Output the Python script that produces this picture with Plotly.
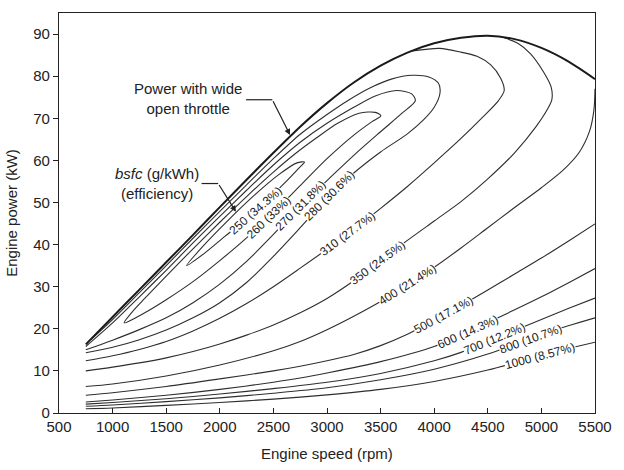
import numpy as np
import plotly.graph_objects as go

# ---------------- data ----------------
speed_ticks = [500, 1000, 1500, 2000, 2500, 3000, 3500, 4000, 4500, 5000, 5500]
power_ticks = [0, 10, 20, 30, 40, 50, 60, 70, 80, 90]

# wide-open-throttle power curve
wot_rpm = [750, 1000, 1250, 1500, 1750, 2000, 2250, 2500, 2750, 3000, 3250, 3500,
           3750, 4000, 4250, 4500, 4750, 5000, 5250, 5500]
wot_kw = [16.3, 22.8, 29.3, 35.8, 42.3, 48.9, 55.4, 61.8, 68.0, 73.6, 78.5, 82.5,
          85.6, 87.8, 89.1, 89.6, 88.8, 86.7, 83.5, 79.3]

# bsfc iso-lines (lower branch left->right, then upper branch back)
c250_rpm = [1690, 1850, 2050, 2250, 2450, 2620, 2740, 2790, 2720, 2550, 2300, 2075, 1850, 1690]
c250_kw = [35.0, 37.8, 42.0, 46.2, 50.8, 55.0, 58.2, 59.6, 59.4, 56.6, 51.2, 45.7, 39.8, 35.0]

c260_rpm = [1108, 1300, 1500, 1750, 2000, 2250, 2500, 2750, 3000, 3250, 3420, 3502,
            3450, 3300, 3100, 2900, 2700, 2500, 2250, 2000, 1750, 1500, 1300, 1180, 1108]
c260_kw = [21.4, 23.8, 26.9, 31.2, 36.2, 41.6, 47.6, 54.0, 60.4, 66.0, 69.2, 70.6,
           71.4, 71.2, 68.8, 65.3, 61.5, 57.2, 51.4, 45.3, 39.0, 32.5, 27.2, 23.9, 21.4]

c270_rpm = [750, 1000, 1250, 1500, 1750, 2000, 2250, 2500, 2750, 3000, 3250, 3500, 3700, 3824,
            3790, 3650, 3450, 3250, 3000, 2750, 2500, 2250, 2000, 1750, 1500, 1250, 1000, 750]
c270_kw = [15.0, 17.3, 19.8, 22.6, 26.2, 30.6, 36.0, 42.4, 49.2, 55.2, 61.2, 66.8, 71.2, 74.2,
           75.8, 76.6, 75.3, 72.6, 68.8, 64.3, 58.9, 52.9, 46.7, 40.4, 33.9, 27.6, 21.4, 15.8]

c280_rpm = [750, 1000, 1250, 1500, 1750, 2000, 2250, 2500, 2750, 3000, 3250, 3500, 3750, 3900, 4000, 4054,
            4040, 3950, 3800, 3600, 3400, 3200, 3000, 2750, 2500, 2250, 2000, 1750, 1500, 1250, 1000, 800]
c280_kw = [14.3, 15.6, 17.4, 19.7, 22.6, 26.2, 31.0, 37.2, 44.0, 51.0, 57.0, 62.0, 66.3, 69.6, 72.6, 76.0,
           78.3, 79.8, 80.2, 79.3, 77.2, 74.3, 70.9, 66.2, 60.4, 54.2, 47.9, 41.5, 35.0, 28.6, 22.2, 17.5]

c310_rpm = [750, 1000, 1250, 1500, 1750, 2000, 2250, 2500, 2750, 3000, 3250, 3500, 3750, 4000,
            4250, 4450, 4600, 4653, 4620, 4530, 4400, 4250, 4050, 3800]
c310_kw = [12.4, 13.6, 15.1, 17.0, 19.5, 22.5, 26.0, 30.0, 34.4, 38.9, 43.6, 48.6, 53.8, 59.4,
           65.2, 70.2, 74.2, 76.6, 79.5, 82.6, 84.7, 85.7, 86.6, 86.0]

c350_rpm = [750, 1000, 1250, 1500, 1750, 2000, 2250, 2500, 2750, 3000, 3250, 3500, 3750, 4000,
            4250, 4500, 4750, 4950, 5060, 5098, 5090, 5020, 4899, 4780, 4653]
c350_kw = [10.0, 10.9, 11.9, 13.1, 14.6, 16.4, 18.5, 20.9, 23.8, 27.2, 31.4, 36.2, 41.0, 45.6,
           50.2, 55.6, 61.8, 68.0, 72.3, 74.5, 77.5, 81.0, 85.3, 87.8, 89.1]

c400_rpm = [750, 1000, 1500, 2000, 2500, 2750, 3000, 3250, 3500, 3750, 4000, 4250, 4500,
            4750, 5000, 5200, 5350, 5450, 5490, 5500]
c400_kw = [6.3, 6.9, 8.8, 11.4, 14.8, 17.0, 19.8, 23.0, 26.5, 30.4, 34.6, 39.2, 44.0,
           48.8, 53.5, 57.6, 61.8, 67.0, 72.0, 77.0]

c500_rpm = [750, 1000, 1500, 2000, 2500, 2750, 3000, 3250, 3500, 3750, 4000, 4250, 4500, 4750, 5000, 5250, 5500]
c500_kw = [4.2, 4.8, 6.3, 8.1, 10.0, 11.1, 12.4, 13.9, 16.0, 18.7, 22.0, 25.5, 29.2, 33.0, 36.8, 40.8, 44.9]

c600_rpm = [750, 1000, 1500, 2000, 2500, 2750, 3000, 3500, 4000, 4250, 4500, 4750, 5000, 5250, 5500]
c600_kw = [2.6, 3.1, 4.2, 5.6, 7.3, 8.3, 9.5, 12.2, 15.8, 18.6, 21.5, 24.5, 27.6, 30.9, 34.3]

c700_rpm = [750, 1000, 1500, 2000, 2500, 3000, 3500, 4000, 4250, 4500, 4750, 5000, 5250, 5500]
c700_kw = [2.1, 2.5, 3.4, 4.5, 5.8, 7.3, 9.4, 12.4, 14.4, 16.9, 19.6, 22.2, 24.8, 27.3]

c800_rpm = [750, 1000, 1500, 2000, 2500, 3000, 3500, 4000, 4500, 4750, 5000, 5250, 5500]
c800_kw = [1.6, 1.9, 2.7, 3.6, 4.7, 6.0, 7.9, 10.4, 14.0, 16.3, 18.6, 20.7, 22.6]

c1000_rpm = [750, 1000, 1500, 2000, 2500, 3000, 3500, 4000, 4500, 4750, 5000, 5250, 5500]
c1000_kw = [1.0, 1.2, 1.8, 2.5, 3.3, 4.3, 5.6, 7.5, 10.2, 11.9, 13.7, 15.3, 16.8]

bsfc_levels = [250, 260, 270, 280, 310, 350, 400, 500, 600, 700, 800, 1000]
efficiency_text = ["34.3%", "33%", "31.8%", "30.6%", "27.7%", "24.5%", "21.4%",
                   "17.1%", "14.3%", "12.2%", "10.7%", "8.57%"]
label_rpm = [2330, 2450, 2750, 3020, 3190, 3470, 3747, 4090, 4315, 4561, 4900, 4990]

# ---------------- figure ----------------
W, H = 624, 470
M = dict(l=59, r=22, t=13, b=57)
X_RANGE = [500, 5500]
Y_RANGE = [0, 95]
px_per_rpm = (W - M['l'] - M['r']) / (X_RANGE[1] - X_RANGE[0])
px_per_kw = (H - M['t'] - M['b']) / (Y_RANGE[1] - Y_RANGE[0])

FONT = "Liberation Sans, Arial, Helvetica, sans-serif"
INK = "#222222"

lines = [(c250_rpm, c250_kw), (c260_rpm, c260_kw), (c270_rpm, c270_kw), (c280_rpm, c280_kw),
         (c310_rpm, c310_kw), (c350_rpm, c350_kw), (c400_rpm, c400_kw), (c500_rpm, c500_kw),
         (c600_rpm, c600_kw), (c700_rpm, c700_kw), (c800_rpm, c800_kw), (c1000_rpm, c1000_kw)]

fig = go.Figure()
for xs, ys in lines:
    fig.add_trace(go.Scatter(x=xs, y=ys, mode="lines",
                             line=dict(color="#2e2e2e", width=1.1, shape="spline", smoothing=0.8),
                             hoverinfo="skip", showlegend=False))
fig.add_trace(go.Scatter(x=wot_rpm, y=wot_kw, mode="lines",
                         line=dict(color="#1a1a1a", width=2, shape="spline", smoothing=0.8),
                         hoverinfo="skip", showlegend=False))

# contour labels placed on the lower branch of each line
for (xs, ys), lvl, eff, r in zip(lines, bsfc_levels, efficiency_text, label_rpm):
    k = int(np.argmax(xs)) + 1
    bx, by = np.array(xs[:k], float), np.array(ys[:k], float)
    y0 = float(np.interp(r, bx, by))
    slope = (np.interp(r + 120, bx, by) - np.interp(r - 120, bx, by)) / 240.0
    ang = -np.degrees(np.arctan(slope * px_per_kw / px_per_rpm))
    fig.add_annotation(x=r, y=y0, text=f"{lvl} ({eff})", textangle=ang, showarrow=False,
                       bgcolor="white", borderpad=0, height=12, valign="middle",
                       font=dict(family=FONT, size=12, color=INK))

# call-out texts with leader arrows
wot_tip_rpm = 2655
wot_tip_kw = float(np.interp(wot_tip_rpm, wot_rpm, wot_kw))
fig.add_annotation(x=1706, y=74.6, text="Power with wide<br>open throttle", showarrow=False,
                   font=dict(family=FONT, size=15, color=INK), align="center")
fig.add_shape(type="line", x0=2245, y0=74.4, x1=2490, y1=74.4, xref="x", yref="y",
              line=dict(color=INK, width=1.2))
fig.add_annotation(x=wot_tip_rpm, y=wot_tip_kw + 0.4, ax=2490, ay=74.4, axref="x", ayref="y",
                   xref="x", yref="y", text="", showarrow=True, arrowhead=2, arrowsize=1,
                   arrowwidth=1.2, arrowcolor=INK)

fig.add_annotation(x=1412, y=54.6, text="<i>bsfc</i> (g/kWh)<br>(efficiency)", showarrow=False,
                   font=dict(family=FONT, size=15, color=INK), align="center")
fig.add_shape(type="line", x0=1830, y0=54.5, x1=1985, y1=54.5, xref="x", yref="y",
              line=dict(color=INK, width=1.2))
fig.add_annotation(x=2150, y=47.8, ax=1985, ay=54.5, axref="x", ayref="y",
                   xref="x", yref="y", text="", showarrow=True, arrowhead=2, arrowsize=1,
                   arrowwidth=1.2, arrowcolor=INK)

# axis titles
fig.add_annotation(xref="paper", yref="paper", x=0.5, y=-0.101, text="Engine speed (rpm)",
                   showarrow=False, font=dict(family=FONT, size=15, color=INK),
                   xanchor="center", yanchor="middle")
fig.add_annotation(xref="paper", yref="paper", x=-0.09, y=0.5, text="Engine power (kW)",
                   showarrow=False, textangle=-90, font=dict(family=FONT, size=15, color=INK),
                   xanchor="center", yanchor="middle")

fig.update_layout(
    width=W, height=H, margin=M,
    paper_bgcolor="white", plot_bgcolor="white",
    font=dict(family=FONT, color=INK),
    showlegend=False,
    xaxis=dict(range=X_RANGE, tickvals=speed_ticks, ticks="inside", ticklen=5, tickwidth=1,
               tickcolor=INK, showline=True, linecolor=INK, linewidth=1.2, mirror=True,
               showgrid=False, zeroline=False, tickfont=dict(size=15, family=FONT, color=INK)),
    yaxis=dict(range=Y_RANGE, tickvals=power_ticks, ticks="outside", ticklen=5, tickwidth=1,
               tickcolor=INK, showline=True, linecolor=INK, linewidth=1.2, mirror=True,
               showgrid=False, zeroline=False, tickfont=dict(size=15, family=FONT, color=INK)),
)

fig.write_html("out.html")
